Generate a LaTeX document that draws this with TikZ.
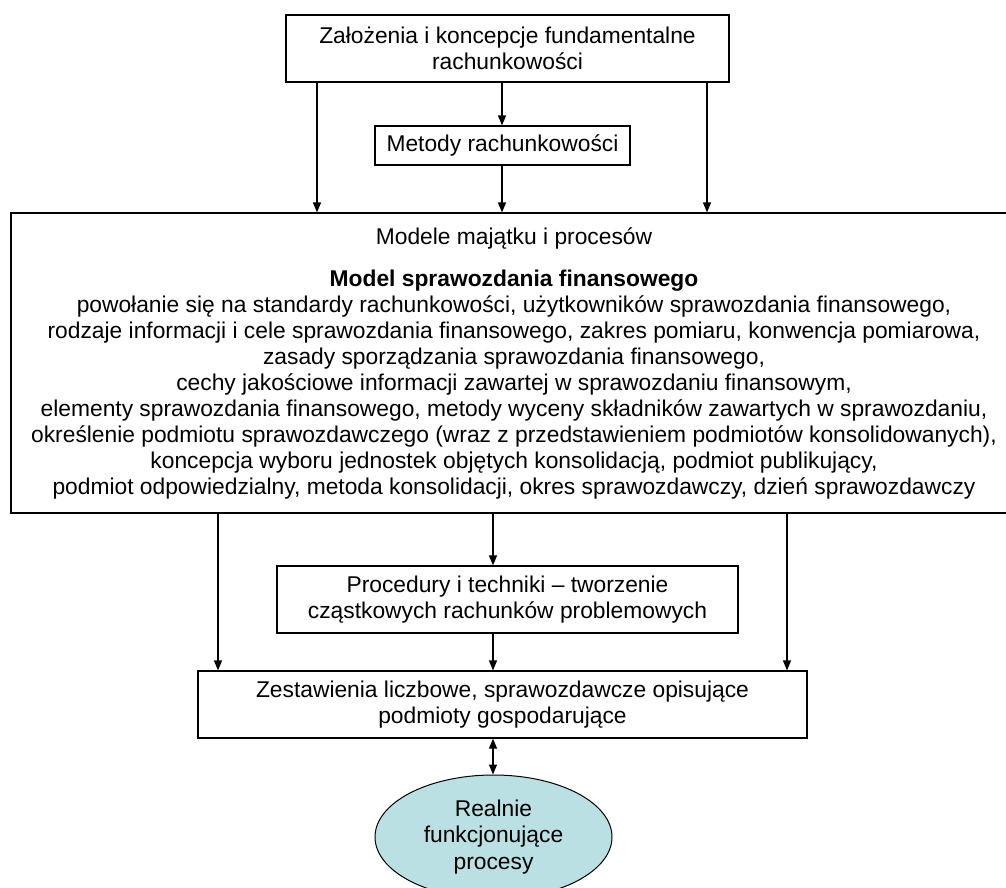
\documentclass[tikz,border=0pt]{standalone}
\usepackage{fontspec}
\setmainfont{Liberation Sans}
\usetikzlibrary{arrows.meta,shapes.geometric}
\definecolor{ellfill}{RGB}{187,224,227}
\begin{document}
\begin{tikzpicture}[x=1pt,y=-1pt,
  box/.style={draw,line width=1.2pt,inner sep=0pt,align=center,font=\fontsize{22.8}{26.5}\selectfont},
  arr/.style={-{Triangle[length=10pt,width=8pt]},line width=1.3pt},
  darr/.style={{Triangle[length=10pt,width=8pt]}-{Triangle[length=10pt,width=8pt]},line width=1.3pt}]
\useasboundingbox (0,0) rectangle (1006,888);
\node[box,minimum width=443pt,minimum height=67pt] (top) at (507.5,48.5) {Założenia i koncepcje fundamentalne\\rachunkowości};
\node[box,minimum width=255pt,minimum height=39pt] (met) at (502.5,145.5) {Metody rachunkowości};
\node[box,minimum width=1006pt,minimum height=300pt,font=\fontsize{22.8}{26}\selectfont] (main) at (514,363) {Modele majątku i procesów\\[16pt]
\textbf{Model sprawozdania finansowego}\\
powołanie się na standardy rachunkowości, użytkowników sprawozdania finansowego,\\
rodzaje informacji i cele sprawozdania finansowego, zakres pomiaru, konwencja pomiarowa,\\
zasady sporządzania sprawozdania finansowego,\\
cechy jakościowe informacji zawartej w sprawozdaniu finansowym,\\
elementy sprawozdania finansowego, metody wyceny składników zawartych w sprawozdaniu,\\
określenie podmiotu sprawozdawczego (wraz z przedstawieniem podmiotów konsolidowanych),\\
koncepcja wyboru jednostek objętych konsolidacją, podmiot publikujący,\\
podmiot odpowiedzialny, metoda konsolidacji, okres sprawozdawczy, dzień sprawozdawczy};
\node[box,minimum width=461pt,minimum height=67pt] (proc) at (507.5,599.5) {Procedury i techniki -- tworzenie\\cząstkowych rachunków problemowych};
\node[box,minimum width=609pt,minimum height=67pt] (zest) at (502.5,704.5) {Zestawienia liczbowe, sprawozdawcze opisujące\\podmioty gospodarujące};
\node[ellipse,draw,line width=1pt,fill=ellfill,minimum width=237pt,minimum height=124pt,inner sep=0pt,align=center,font=\fontsize{22.8}{26.5}\selectfont] (real) at (493.5,837) {Realnie\\funkcjonujące\\procesy};
\coordinate (xa) at (317,0);
\coordinate (xb) at (502,0);
\coordinate (xc) at (707,0);
\coordinate (xd) at (218,0);
\coordinate (xe) at (493,0);
\coordinate (xf) at (787,0);
\draw[arr] (top.south -| xa) -- (main.north -| xa);
\draw[arr] (top.south -| xb) -- (met.north -| xb);
\draw[arr] (met.south -| xb) -- (main.north -| xb);
\draw[arr] (top.south -| xc) -- (main.north -| xc);
\draw[arr] (main.south -| xd) -- (zest.north -| xd);
\draw[arr] (main.south -| xe) -- (proc.north -| xe);
\draw[arr] (proc.south -| xe) -- (zest.north -| xe);
\draw[arr] (main.south -| xf) -- (zest.north -| xf);
\draw[darr] (zest.south -| xe) -- (real.north -| xe);
\end{tikzpicture}
\end{document}
